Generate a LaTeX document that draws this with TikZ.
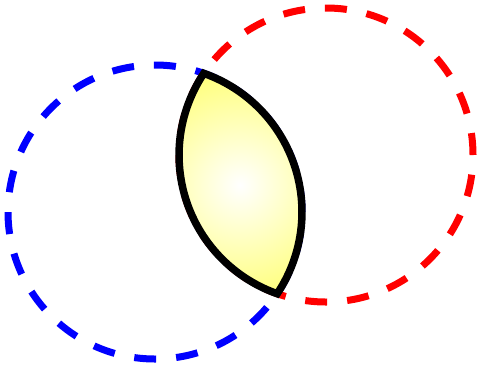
\documentclass[tikz,border=0pt]{standalone}
\usetikzlibrary{calc}
\pgfdeclareradialshading{lensshade}{\pgfpoint{0bp}{0bp}}{color(0bp)=(white); color(50bp)=(yellow); color(100bp)=(yellow)}
\begin{document}
\begin{tikzpicture}[x=1pt,y=1pt,
  ring/.style={line width=7pt, dash pattern=on 22pt off 20pt},
  lensline/.style={line width=7.5pt, draw=black, line join=miter, miter limit=4}]
\useasboundingbox (0,0) rectangle (481,-368);
\coordinate (B) at (155,-212);
\coordinate (R) at (326,-155);
\coordinate (C) at (240,-185);
\draw[ring, blue] (B) circle[radius=147];
\draw[ring, red] (R) circle[radius=147];
\coordinate (P2) at ($(B)+(-33.77:147)$);
\def\lenspath{(P2) arc[start angle=-33.77, end angle=70.6, radius=147]
  arc[start angle=146.23, end angle=250.6, radius=147] -- cycle}
\begin{scope}
  \clip \lenspath;
  \shade[shading=lensshade] (C) circle[radius=112];
\end{scope}
\draw[lensline] \lenspath;
\end{tikzpicture}
\end{document}
